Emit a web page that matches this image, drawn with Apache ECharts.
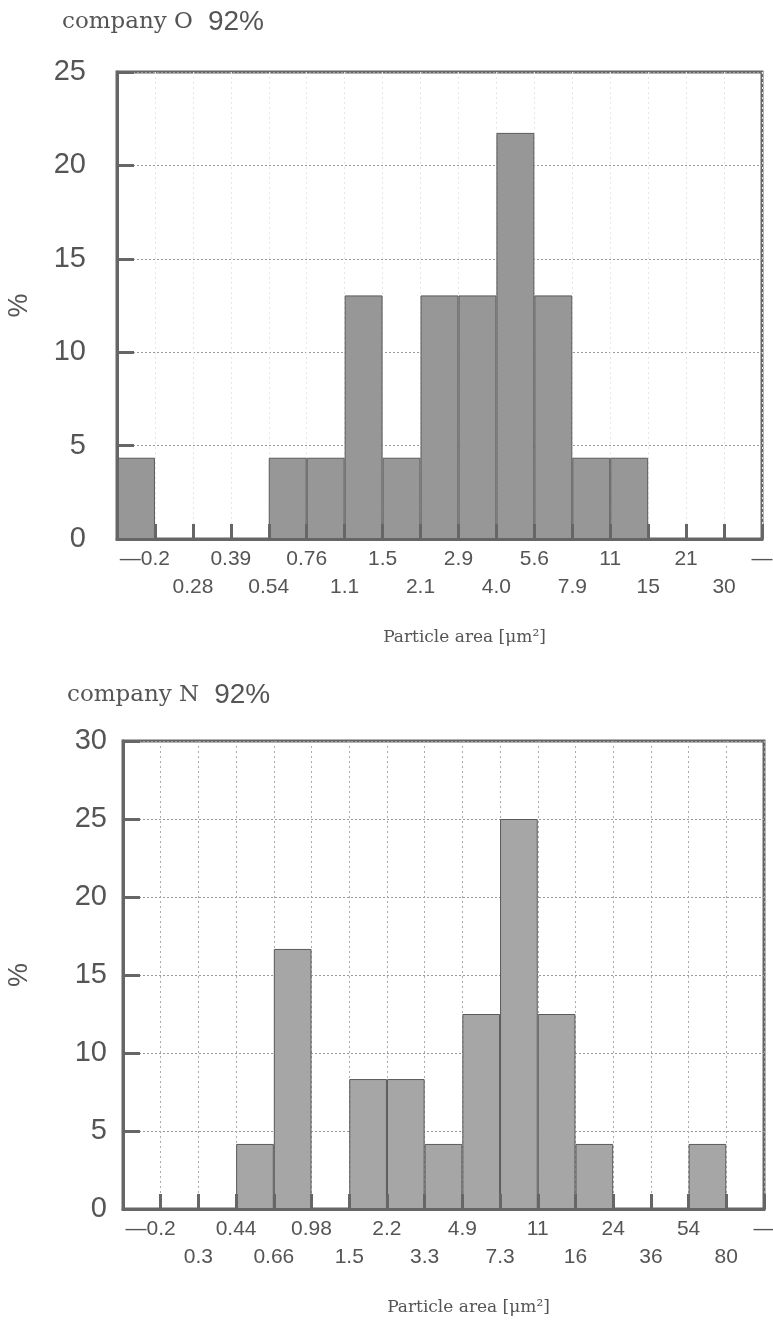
<!DOCTYPE html>
<html>
<head>
<meta charset="utf-8">
<script src="https://cdn.jsdelivr.net/npm/echarts@6/dist/echarts.min.js"></script>
<style>html,body{margin:0;padding:0;background:#fff}#c{width:773px;height:1339px}</style>
</head>
<body>
<div id="c"></div>
<script>
// ---- data ----
const titleO = 'company O';
const pctO = '92%';
const edgesO = ['0.2','0.28','0.39','0.54','0.76','1.1','1.5','2.1','2.9','4.0','5.6','7.9','11','15','21','30'];
const valuesO = [4.35, 0, 0, 0, 4.35, 4.35, 13.04, 4.35, 13.04, 13.04, 21.74, 13.04, 4.35, 4.35, 0, 0, 0];
const yTicksO = [0, 5, 10, 15, 20, 25];

const titleN = 'company N';
const pctN = '92%';
const edgesN = ['0.2','0.3','0.44','0.66','0.98','1.5','2.2','3.3','4.9','7.3','11','16','24','36','54','80'];
const valuesN = [0, 0, 0, 4.17, 16.67, 0, 8.33, 8.33, 4.17, 12.5, 25, 12.5, 4.17, 0, 0, 4.17, 0];
const yTicksN = [0, 5, 10, 15, 20, 25, 30];

const xName = 'Particle area [μm²]';
const yName = '%';

// ---- helpers ----
function binNames(edges) {
  const n = [];
  n.push('<' + edges[0]);
  for (let i = 0; i < edges.length - 1; i++) n.push(edges[i] + '–' + edges[i + 1]);
  n.push('>' + edges[edges.length - 1]);
  return n;
}
function edgeFormatter(edges) {
  const nb = edges.length + 1;
  return function (v) {
    const i = Math.round(v);
    if (i <= 0) return '';
    if (i >= nb) return '—';
    const t = edges[i - 1];
    if (i === 1) return '{d|—}' + t + '{p|}';
    return (i % 2 === 0 ? '\n' : '') + t;
  };
}
const gray = '#555';
const axisGray = '#666';
const xFont = 21;

function buildAxes(gi, edges, yTicks, opts) {
  const nb = edges.length + 1;
  const ymax = yTicks[yTicks.length - 1];
  const xs = [
    {
      type: 'category', gridIndex: gi, data: binNames(edges), boundaryGap: true, position: 'bottom',
      axisLine: { show: false }, axisTick: { show: false }, axisLabel: { show: false },
      splitLine: { show: true, interval: 0, lineStyle: { type: [2, 3], color: opts.vgrid, width: 1 } },
      z: 0
    },
    {
      type: 'value', gridIndex: gi, min: 0, max: nb, interval: 1, position: 'bottom',
      axisLine: { show: true, onZero: false, lineStyle: { color: axisGray, width: 3 } },
      axisTick: { show: true, inside: true, length: 15, lineStyle: { color: axisGray, width: 3 } },
      splitLine: { show: false },
      axisLabel: {
        show: true, showMinLabel: true, showMaxLabel: true, hideOverlap: false,
        formatter: edgeFormatter(edges), margin: 6, color: gray,
        fontFamily: 'Liberation Sans', fontSize: xFont, lineHeight: 28,
        rich: { d: { fontSize: xFont, color: gray, fontFamily: 'Liberation Sans' }, p: { width: 20 } }
      },
      name: xName, nameLocation: 'middle', nameGap: 90,
      nameTextStyle: { fontFamily: 'DejaVu Serif', fontSize: 17, color: gray, padding: [0, 0, 0, 50] },
      z: 10
    }
  ];
  const ys = [
    {
      type: 'value', gridIndex: gi, min: 0, max: ymax, interval: 5, position: 'left',
      axisLine: { show: false }, axisTick: { show: false }, axisLabel: { show: false },
      splitLine: { show: true, lineStyle: { type: [2, 2], color: '#999', width: 1 } },
      z: 0
    },
    {
      type: 'value', gridIndex: gi, min: 0, max: ymax, interval: 5, position: 'left', offset: 0,
      axisLine: { show: true, onZero: false, lineStyle: { color: axisGray, width: 3 } },
      axisTick: { show: true, inside: true, length: 17, lineStyle: { color: axisGray, width: 3 } },
      splitLine: { show: false },
      axisLabel: { color: gray, fontFamily: 'Liberation Sans', fontSize: 29, margin: opts.ymargin },
      name: yName, nameLocation: 'middle', nameRotate: 90, nameGap: opts.nameGap,
      nameTextStyle: { color: gray, fontFamily: 'Liberation Sans', fontSize: 27 },
      z: 10
    }
  ];
  return { xs, ys };
}

const a0 = buildAxes(0, edgesO, yTicksO, { vgrid: '#e6e6e6', ymargin: 31, nameGap: 84 });
const a1 = buildAxes(1, edgesN, yTicksN, { vgrid: '#aaa', ymargin: 16, nameGap: 90 });

const titleRich = {
  a: { fontFamily: 'DejaVu Serif', fontSize: 23, fontWeight: 'normal', color: gray },
  s: { width: 15 },
  b: { fontFamily: 'Liberation Sans', fontSize: 28, fontWeight: 'normal', color: gray }
};

const chart = echarts.init(document.getElementById('c'), null, { renderer: 'canvas' });
chart.setOption({
  animation: false,
  backgroundColor: '#fff',
  title: [
    { text: '{a|' + titleO + '}{s|}{b|' + pctO + '}', left: 57, top: 3, textStyle: { fontWeight: 'normal', rich: titleRich } },
    { text: '{a|' + titleN + '}{s|}{b|' + pctN + '}', left: 62, top: 676, textStyle: { fontWeight: 'normal', rich: titleRich } }
  ],
  grid: [
    { left: 117, right: 11, top: 72, height: 467, show: true, borderColor: axisGray, borderWidth: 3, backgroundColor: 'transparent', containLabel: false, outerBoundsMode: 'none' },
    { left: 123, right: 9, top: 741, height: 468, show: true, borderColor: axisGray, borderWidth: 3, backgroundColor: 'transparent', containLabel: false, outerBoundsMode: 'none' }
  ],
  xAxis: [a0.xs[0], a0.xs[1], a1.xs[0], a1.xs[1]],
  yAxis: [a0.ys[0], a0.ys[1], a1.ys[0], a1.ys[1]],
  series: [
    {
      type: 'bar', xAxisIndex: 0, yAxisIndex: 0, data: valuesO,
      barCategoryGap: '0%', barGap: '0%',
      itemStyle: { color: '#979797', borderColor: '#5a5a5a', borderWidth: 1 }
    },
    {
      type: 'bar', xAxisIndex: 2, yAxisIndex: 2, data: valuesN,
      barCategoryGap: '0%', barGap: '0%',
      itemStyle: { color: '#a6a6a6', borderColor: '#5a5a5a', borderWidth: 1 }
    }
  ]
});
</script>
</body>
</html>
